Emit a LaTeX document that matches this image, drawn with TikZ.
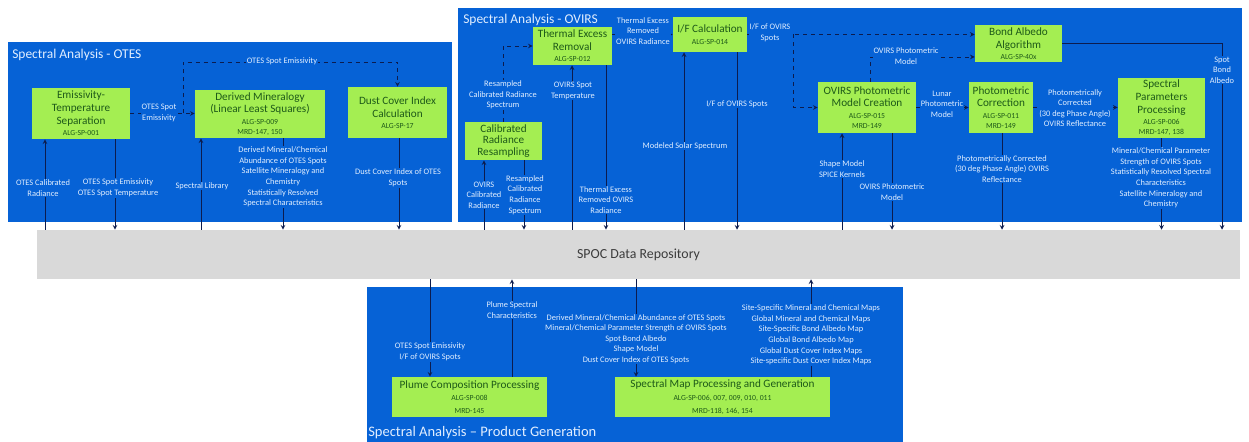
\documentclass[tikz,border=0pt]{standalone}
\usepackage{fontspec}
\setmainfont{Carlito}
\usetikzlibrary{arrows}
\definecolor{panelblue}{RGB}{6,98,214}
\definecolor{procgreen}{RGB}{164,238,82}
\definecolor{proctext}{RGB}{30,90,25}
\definecolor{repogray}{RGB}{217,217,217}
\definecolor{repotext}{RGB}{60,60,60}
\definecolor{linkcol}{RGB}{12,28,78}
\definecolor{lbltext}{RGB}{225,238,255}
\newcommand{\algno}[1]{{\fontsize{5.8}{6.6}\selectfont #1}}
\begin{document}
\begin{tikzpicture}[x=0.75pt,y=0.75pt,yscale=-1,xscale=1,>=stealth,
    proc/.style={fill=procgreen,text=proctext,align=center,inner sep=1pt,font=\fontsize{8.4}{9.6}\selectfont},
    lbl/.style={fill=panelblue,text=lbltext,align=center,inner sep=0.6pt,font=\fontsize{6.3}{7.9}\selectfont},
    link/.style={draw=linkcol,line width=0.6pt,->},
    dlink/.style={link,dashed},
    paneltitle/.style={text=lbltext,anchor=west,inner sep=0pt,font=\fontsize{10.1}{11}\selectfont}]
    \useasboundingbox (0,0) rectangle (1249,442);
    % panels
    \fill[panelblue] (8,42) rectangle (452,222);
    \fill[panelblue] (458,8) rectangle (1242,222);
    \fill[panelblue] (367,287) rectangle (903,442);
    \node[paneltitle] (otestitle) at (12,55) {Spectral Analysis - OTES};
    \node[paneltitle] (ovirstitle) at (463,20) {Spectral Analysis - OVIRS};
    \node[paneltitle,font=\fontsize{10.9}{12}\selectfont] (prodtitle) at (368,433) {Spectral Analysis -- Product Generation};
    % repository
    \node[fill=repogray,text=repotext,minimum width=902.25pt,minimum height=36.75pt,inner sep=0pt,font=\fontsize{10.4}{12}\selectfont] (repo) at (638.5,254.5) {SPOC Data Repository};
    % processes
    \node[proc,minimum width=73.5pt,minimum height=38.25pt] (ets) at (81,113.5) {Emissivity-\\Temperature\\Separation\\[-1pt]\algno{ALG-SP-001}};
    \node[proc,minimum width=97.5pt,minimum height=36pt] (dmin) at (260,114) {Derived Mineralogy\\(Linear Least Squares)\\[-1pt]\algno{ALG-SP-009}\\[-2pt]\algno{MRD-147, 150}};
    \node[proc,minimum width=74.25pt,minimum height=38.25pt] (dci) at (397.5,112.5) {Dust Cover Index\\Calculation\\[-1pt]\algno{ALG-SP-17}};
    \node[proc,minimum width=59.25pt,minimum height=28.5pt] (ter) at (572.5,46) {Thermal Excess\\Removal\\[-1pt]\algno{ALG-SP-012}};
    \node[proc,minimum width=57.75pt,minimum height=28.5pt,font=\fontsize{8.4}{8.9}\selectfont] (crr) at (503.5,141) {Calibrated\\Radiance\\Resampling};
    \node[proc,minimum width=55.5pt,minimum height=26.25pt] (ifc) at (710,34.5) {I/F Calculation\\[-1pt]\algno{ALG-SP-014}};
    \node[proc,minimum width=65.25pt,minimum height=27.75pt] (bond) at (1018.5,43.5) {Bond Albedo\\Algorithm\\[-1pt]\algno{ALG-SP-40x}};
    \node[proc,minimum width=73.5pt,minimum height=38.25pt] (pmc) at (867,107.5) {OVIRS Photometric\\Model Creation\\[-1pt]\algno{ALG-SP-015}\\[-2pt]\algno{MRD-149}};
    \node[proc,minimum width=48pt,minimum height=38.25pt] (phc) at (1001,107.5) {Photometric\\Correction\\[-1pt]\algno{ALG-SP-011}\\[-2pt]\algno{MRD-149}};
    \node[proc,minimum width=65.25pt,minimum height=45pt] (spp) at (1161.5,108) {Spectral\\Parameters\\Processing\\[-1pt]\algno{ALG-SP-006}\\[-2pt]\algno{MRD-147, 138}};
    \node[proc,minimum width=116.25pt,minimum height=30pt] (plume) at (469.5,397) {Plume Composition Processing\\\algno{ALG-SP-008}\\\algno{MRD-145}};
    \node[proc,minimum width=161.25pt,minimum height=30pt] (smap) at (722.5,397) {Spectral Map Processing and Generation\\\algno{ALG-SP-006, 007, 009, 010, 011}\\\algno{MRD-118, 146, 154}};
    % OTES links
    \coordinate (emisplit) at (ets.east -| 183,0);
    \draw[link] (repo.north -| 45,0) -- (ets.south -| 45,0);
    \draw[link] (ets.south -| 115,0) -- (repo.north -| 115,0);
    \draw[dlink] (ets.east) -- (ets.east -| dmin.west);
    \draw[dlink] (emisplit) -- (emisplit |- 0,62) -| (dci.north);
    \draw[link] (repo.north -| 201,0) -- (dmin.south -| 201,0);
    \draw[link] (dmin.south -| 283,0) -- (repo.north -| 283,0);
    \draw[link] (dci.south -| 399,0) -- (repo.north -| 399,0);
    % OVIRS links
    \coordinate (ifsplit) at (ifc.east -| 793,0);
    \draw[link] (repo.north -| 484,0) -- (crr.south -| 484,0);
    \draw[link] (crr.south -| 524,0) -- (repo.north -| 524,0);
    \draw[dlink] (crr.north -| 503,0) |- (ter.west);
    \draw[link] (repo.north -| 572,0) -- (ter.south -| 572,0);
    \draw[link] (ter.south -| 606,0) -- (repo.north -| 606,0);
    \draw[dlink] (ter.east |- ifc.west) -- (ifc.west);
    \draw[link] (repo.north -| 684,0) -- (ifc.south -| 684,0);
    \draw[link] (ifc.south -| 737,0) -- (repo.north -| 737,0);
    \draw[dlink] (ifc.east) -- (ifc.east -| bond.west);
    \draw[dlink] (ifsplit) |- (pmc.west);
    \draw[dlink] (pmc.north -| 870,0) |- (bond.west |- 0,57);
    \draw[dlink] (pmc.east) -- (phc.west);
    \draw[link] (repo.north -| 842,0) -- (pmc.south -| 842,0);
    \draw[link] (pmc.south -| 892,0) -- (repo.north -| 892,0);
    \draw[link] (phc.south -| 1002,0) -- (repo.north -| 1002,0);
    \draw[dlink] (phc.east) -- (phc.east -| spp.west);
    \draw[link] (spp.south) -- (repo.north -| spp.south);
    \draw[link] (bond.east) -| (repo.north -| 1222,0);
    % product links
    \draw[link] (repo.south -| 430,0) -- (plume.north -| 430,0);
    \draw[link] (plume.north -| 512,0) -- (repo.south -| 512,0);
    \draw[link] (repo.south -| 636,0) -- (smap.north -| 636,0);
    \draw[link] (smap.north -| 811,0) -- (repo.south -| 811,0);
    % labels
    \node[lbl] (lotescal) at (43,188) {OTES Calibrated\\Radiance};
    \node[lbl] (lotesspot) at (118,188) {OTES Spot Emissivity\\OTES Spot Temperature};
    \node[lbl] (lemisa) at (159,113) {OTES Spot\\Emissivity};
    \node[lbl] (lemisb) at (282,61) {OTES Spot Emissivity};
    \node[lbl] (lspeclib) at (202,186) {Spectral Library};
    \node[lbl] (ldmin) at (283,177) {Derived Mineral/Chemical\\Abundance of OTES Spots\\Satellite Mineralogy and\\Chemistry\\Statistically Resolved\\Spectral Characteristics};
    \node[lbl] (ldci) at (398,178) {Dust Cover Index of OTES\\Spots};
    \node[lbl] (lresa) at (503,95) {Resampled\\Calibrated Radiance\\Spectrum};
    \node[lbl] (lspottemp) at (573,91) {OVIRS Spot\\Temperature};
    \node[lbl] (lovcal) at (484,195) {OVIRS\\Calibrated\\Radiance};
    \node[lbl] (lresb) at (525,195) {Resampled\\Calibrated\\Radiance\\Spectrum};
    \node[lbl] (lthera) at (606,200) {Thermal Excess\\Removed OVIRS\\Radiance};
    \node[lbl] (ltherb) at (643,31) {Thermal Excess\\Removed\\OVIRS Radiance};
    \node[lbl] (lifa) at (770,33) {I/F of OVIRS\\Spots};
    \node[lbl] (lifb) at (737,104) {I/F of OVIRS Spots};
    \node[lbl] (lsolar) at (685,146) {Modeled Solar Spectrum};
    \node[lbl] (lphma) at (906,56) {OVIRS Photometric\\Model};
    \node[lbl] (lunar) at (942,104) {Lunar\\Photometric\\Model};
    \node[lbl] (lshape) at (842,169) {Shape Model\\SPICE Kernels};
    \node[lbl] (lphmb) at (892,192) {OVIRS Photometric\\Model};
    \node[lbl] (lphca) at (1002,169) {Photometrically Corrected\\(30 deg Phase Angle) OVIRS\\Reflectance};
    \node[lbl] (lphcb) at (1075,108) {Photometrically\\Corrected\\(30 deg Phase Angle)\\OVIRS Reflectance};
    \node[lbl] (lbond) at (1222,70) {Spot\\Bond\\Albedo};
    \node[lbl] (lspp) at (1161,178) {Mineral/Chemical Parameter\\Strength of OVIRS Spots\\Statistically Resolved Spectral\\Characteristics\\Satellite Mineralogy and\\Chemistry};
    \node[lbl] (lplumein) at (430,352) {OTES Spot Emissivity\\I/F of OVIRS Spots};
    \node[lbl] (lplumeout) at (512,310) {Plume Spectral\\Characteristics};
    \node[lbl] (lmapin) at (636,339) {Derived Mineral/Chemical Abundance of OTES Spots\\Mineral/Chemical Parameter Strength of OVIRS Spots\\Spot Bond Albedo\\Shape Model\\Dust Cover Index of OTES Spots};
    \node[lbl] (lmapout) at (811,335) {Site-Specific Mineral and Chemical Maps\\Global Mineral and Chemical Maps\\Site-Specific Bond Albedo Map\\Global Bond Albedo Map\\Global Dust Cover Index Maps\\Site-specific Dust Cover Index Maps};
\end{tikzpicture}
\end{document}
